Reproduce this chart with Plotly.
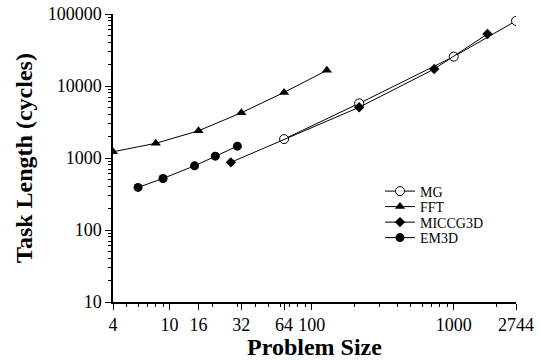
import plotly.graph_objects as go
import numpy as np

mg_x = [64, 216, 1000, 2744]
mg_y = [1830, 5740, 25600, 80200]
fft_x = [4, 8, 16, 32, 64, 128]
fft_y = [1220, 1600, 2390, 4250, 8150, 16500]
mic_x = [27, 216, 729, 1728]
mic_y = [870, 5060, 17200, 52800]
em_x = [6, 9, 15, 21, 30]
em_y = [390, 520, 778, 1060, 1460]

x_ticks = [4, 10, 16, 32, 64, 100, 1000, 2744]
y_ticks = [10, 100, 1000, 10000, 100000]

FONT = "Liberation Serif, Times New Roman, Times, serif"

x_minor = [v for d in [1, 10, 100, 1000] for v in [d * k for k in range(2, 10)] if 4 < v < 2744 and v not in x_ticks]
y_minor = [d * k for d in [10, 100, 1000, 10000] for k in range(2, 10)]

fig = go.Figure()
fig.add_trace(go.Scatter(x=mg_x, y=mg_y, name="MG", mode="lines+markers", legend="legend",
                         line=dict(color="black", width=1),
                         marker=dict(symbol="circle", size=9, color="white",
                                     line=dict(color="black", width=1))))
fig.add_trace(go.Scatter(x=fft_x, y=fft_y, name="FFT", mode="lines+markers", legend="legend2",
                         line=dict(color="black", width=1),
                         marker=dict(symbol="triangle-up", size=9, color="black")))
fig.add_trace(go.Scatter(x=mic_x, y=mic_y, name="MICCG3D", mode="lines+markers", legend="legend3",
                         line=dict(color="black", width=1),
                         marker=dict(symbol="diamond", size=8, color="black")))
fig.add_trace(go.Scatter(x=em_x, y=em_y, name="EM3D", mode="lines+markers", legend="legend4",
                         line=dict(color="black", width=1),
                         marker=dict(symbol="circle", size=9, color="black")))

leg_rows = [0.3837, 0.3299, 0.276, 0.2222]
def leg(yv):
    return dict(x=0.6625, y=yv, xanchor="left", yanchor="middle",
                font=dict(family=FONT, size=14), bgcolor="rgba(0,0,0,0)",
                itemsizing="trace")

fig.update_layout(
    width=541, height=360,
    margin=dict(l=113, r=25, t=14, b=58, autoexpand=False),
    plot_bgcolor="white", paper_bgcolor="white",
    font=dict(family=FONT, color="black", size=17),
    showlegend=True,
    legend=leg(leg_rows[0]), legend2=leg(leg_rows[1]),
    legend3=leg(leg_rows[2]), legend4=leg(leg_rows[3]),
)
fig.update_xaxes(
    type="log", range=[np.log10(4), np.log10(2744)], automargin=False,
    tickvals=x_ticks, ticktext=[str(v) for v in x_ticks],
    ticks="outside", ticklen=6, tickwidth=1, tickcolor="black",
    showline=True, linecolor="black", linewidth=1.5, showgrid=False, zeroline=False,
    tickfont=dict(family=FONT, size=18),
    minor=dict(tickvals=x_minor, ticks="outside", ticklen=3, tickcolor="black", showgrid=False),
    title=dict(text="<b>Problem Size</b>", font=dict(family=FONT, size=24), standoff=2),
)
fig.update_yaxes(
    type="log", range=[1, 5], automargin=False,
    tickvals=y_ticks, ticktext=[str(v) for v in y_ticks],
    ticks="outside", ticklen=6, tickwidth=1, tickcolor="black",
    showline=True, linecolor="black", linewidth=1.5, showgrid=False, zeroline=False,
    tickfont=dict(family=FONT, size=18),
    minor=dict(tickvals=y_minor, ticks="outside", ticklen=3, tickcolor="black", showgrid=False),
    title=dict(text="<b>Task Length (cycles)</b>", font=dict(family=FONT, size=24), standoff=8),
)
fig.write_html("out.html")
